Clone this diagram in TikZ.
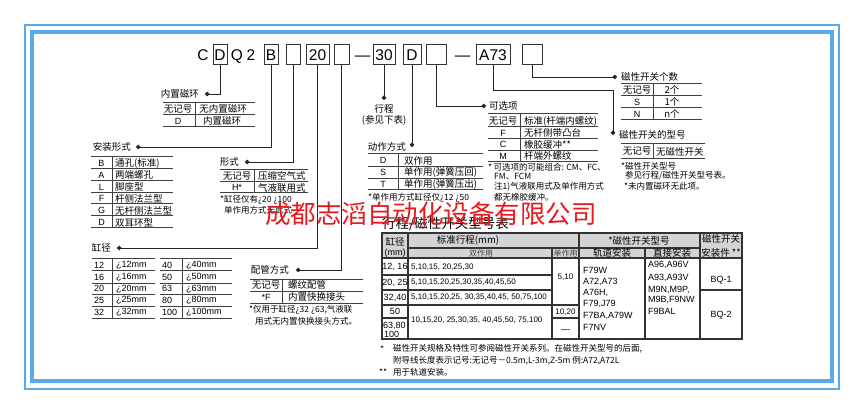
\documentclass[tikz,border=0pt]{standalone}
\usepackage{fontspec}
\setmainfont{Noto Sans CJK SC}
\newfontfamily\lat{Liberation Sans}
\usetikzlibrary{arrows.meta}
\definecolor{frameblue}{HTML}{5BA9E5}
\definecolor{wmred}{HTML}{E8191E}
\definecolor{hdrgray}{HTML}{D4D4D4}
\tikzset{
 cbox/.style={draw=black!80, line width=1pt, minimum height=20pt, inner sep=0pt, font=\lat\fontsize{15.5}{16}\selectfont},
 ctext/.style={inner sep=0pt, anchor=base, font=\lat\fontsize{15.5}{16}\selectfont},
 conn/.style={draw=black!85, line width=0.9pt, -{Circle[length=4.5pt]}},
 lbl/.style={inner sep=0pt, font=\fontsize{9.5}{10}\selectfont},
 tabcjk/.style={inner sep=0pt, font=\fontsize{9.5}{10}\selectfont},
 tablat/.style={inner sep=0pt, font=\lat\fontsize{9}{10}\selectfont},
 smalllat/.style={inner sep=0pt, font=\lat\fontsize{8}{9}\selectfont},
 hdrsmall/.style={inner sep=0pt, font=\fontsize{8}{9}\selectfont, text=black!75},
 notetxt/.style={inner sep=0pt, font=\fontsize{8.5}{9}\selectfont},
 tabline/.style={draw=black!75, line width=1pt},
 bigline/.style={draw=black!80, line width=1.2pt},
}
\begin{document}
\begin{tikzpicture}[x=1pt,y=-1pt]
\useasboundingbox (0,0) rectangle (865,414);
\fill[white] (0,0) rectangle (865,414);
% frame
\draw[frameblue, line width=2pt] (25,25) rectangle (839,389);
\draw[frameblue, line width=4pt] (32,32) rectangle (832,381);

% ---------- code line ----------
\node[ctext] (tC) at (203,60.5) {C};
\node[cbox, minimum width=14pt] (bD) at (220,55) {D};
\node[ctext] (tQ) at (237,60.5) {Q};
\node[ctext] (t2) at (251,60.5) {2};
\node[cbox, minimum width=14pt] (bB) at (271,55) {B};
\node[cbox, minimum width=14pt] (bE1) at (293,55) {};
\node[cbox, minimum width=23pt] (b20) at (317.5,55) {20};
\node[cbox, minimum width=15pt] (bE2) at (341.5,55) {};
\node[ctext] (dash1) at (362.5,60.5) {—};
\node[cbox, minimum width=22pt] (b30) at (384,55) {30};
\node[cbox, minimum width=18pt] (bD2) at (412,55) {D};
\node[cbox, minimum width=20pt] (bE3) at (436,55) {};
\node[ctext] (dash2) at (462.5,60.5) {—};
\node[cbox, minimum width=34pt] (bA73) at (493,55) {A73};
\node[cbox, minimum width=20pt] (bE4) at (532,55) {};

% ---------- end coordinates ----------
\coordinate (dD) at (205,94);
\coordinate (dB) at (136,147);
\coordinate (dE1) at (245,162);
\coordinate (d20) at (117,248);
\coordinate (dE2) at (296,270);
\coordinate (d30) at (384,100);
\coordinate (dD2) at (412,147);
\coordinate (dE3) at (486,106);
\coordinate (kA) at (613,90);
\coordinate (dA) at (613,135);
\coordinate (dE4) at (617,77);

% ---------- connectors ----------
\draw[conn] (bD.south) |- (dD);
\draw[conn] (bB.south) |- (dB);
\draw[conn] (bE1.south) |- (dE1);
\draw[conn] (b20.south) |- (d20);
\draw[conn] (bE2.south) |- (dE2);
\draw[conn] (b30.south) -- (d30);
\draw[conn] (bD2.south) -- (dD2);
\draw[conn] (bE3.south) |- (dE3);
\draw[conn] (bA73.south) |- (kA) -- (dA);
\draw[conn] (bE4.south) |- (dE4);

% ---------- labels ----------
\node[lbl, anchor=east] (l1) at (199,94) {内置磁环};
\node[lbl, anchor=east] (l2) at (131,147) {安装形式};
\node[lbl, anchor=east] (l3) at (239,162) {形式};
\node[lbl, anchor=east] (l4) at (111,248) {缸径};
\node[lbl, anchor=east] (l5) at (289,270) {配管方式};
\node[lbl] (l6a) at (384,109) {行程};
\node[lbl] (l6b) at (384,120) {(参见下表)};
\node[lbl, anchor=east] (l7) at (406,147) {动作方式};
\node[lbl, anchor=west] (l8) at (489,106) {可选项};
\node[lbl, anchor=west] (l9) at (619,135) {磁性开关的型号};
\node[lbl, anchor=west] (l10) at (621,77) {磁性开关个数};

% ---------- T1 内置磁环 ----------
\draw[tabline] (163,103) -- (255,103) (163,115) -- (255,115) (163,127) -- (255,127) (195,103) -- (195,127);
\node[tabcjk] (t1a) at (178,109) {无记号};
\node[tabcjk] (t1b) at (223,109) {无内置磁环};
\node[tablat] (t1c) at (178,121) {D};
\node[tabcjk] (t1d) at (222,121) {内置磁环};

% ---------- T2 安装形式 ----------
\draw[tabline] (91,157) -- (173,157) (91,169) -- (173,169) (91,181) -- (173,181) (91,192.5) -- (173,192.5)
  (91,204) -- (173,204) (91,216) -- (173,216) (91,228) -- (173,228) (112,157) -- (112,228);
\node[tablat] (t2a) at (101.5,163) {B};
\node[tabcjk, anchor=west] (t2b) at (115,163) {通孔(标准)};
\node[tablat] (t2c) at (101.5,175) {A};
\node[tabcjk, anchor=west] (t2d) at (115,175) {两端螺孔};
\node[tablat] (t2e) at (101.5,187) {L};
\node[tabcjk, anchor=west] (t2f) at (115,187) {脚座型};
\node[tablat] (t2g) at (101.5,198.5) {F};
\node[tabcjk, anchor=west] (t2h) at (115,198.5) {杆侧法兰型};
\node[tablat] (t2i) at (101.5,210.5) {G};
\node[tabcjk, anchor=west] (t2j) at (115,210.5) {无杆侧法兰型};
\node[tablat] (t2k) at (101.5,222.5) {D};
\node[tabcjk, anchor=west] (t2l) at (115,222.5) {双耳环型};

% ---------- T3 形式 ----------
\draw[tabline] (220,170) -- (308,170) (220,182) -- (308,182) (220,193) -- (308,193) (254,170) -- (254,193);
\node[tabcjk] (t3a) at (237,176) {无记号};
\node[tabcjk, anchor=west] (t3b) at (258,176) {压缩空气式};
\node[tablat] (t3c) at (237,187.5) {H*};
\node[tabcjk, anchor=west] (t3d) at (258,187.5) {气液联用式};
\node[notetxt, anchor=west] (n3a) at (220,200) {*缸径仅有¿20~¿100};
\node[notetxt, anchor=west] (n3b) at (224,210) {单作用方式无此式};

% ---------- T4 缸径 ----------
\foreach \yy in {259,271,283,294.5,306,318} {
  \draw[tabline] (92,\yy) -- (155,\yy) (160,\yy) -- (232,\yy);
}
\draw[tabline] (112,259) -- (112,318) (182,259) -- (182,318);
\node[tablat, anchor=west] (t4a1) at (94,265) {12};
\node[tablat, anchor=west] (t4b1) at (116,265) {¿12mm};
\node[tablat, anchor=west] (t4a2) at (94,277) {16};
\node[tablat, anchor=west] (t4b2) at (116,277) {¿16mm};
\node[tablat, anchor=west] (t4a3) at (94,288.7) {20};
\node[tablat, anchor=west] (t4b3) at (116,288.7) {¿20mm};
\node[tablat, anchor=west] (t4a4) at (94,300.2) {25};
\node[tablat, anchor=west] (t4b4) at (116,300.2) {¿25mm};
\node[tablat, anchor=west] (t4a5) at (94,312) {32};
\node[tablat, anchor=west] (t4b5) at (116,312) {¿32mm};
\node[tablat, anchor=west] (t4c1) at (162,265) {40};
\node[tablat, anchor=west] (t4d1) at (186,265) {¿40mm};
\node[tablat, anchor=west] (t4c2) at (162,277) {50};
\node[tablat, anchor=west] (t4d2) at (186,277) {¿50mm};
\node[tablat, anchor=west] (t4c3) at (162,288.7) {63};
\node[tablat, anchor=west] (t4d3) at (186,288.7) {¿63mm};
\node[tablat, anchor=west] (t4c4) at (162,300.2) {80};
\node[tablat, anchor=west] (t4d4) at (186,300.2) {¿80mm};
\node[tablat, anchor=west] (t4c5) at (162,312) {100};
\node[tablat, anchor=west] (t4d5) at (186,312) {¿100mm};

% ---------- T5 配管方式 ----------
\draw[tabline] (250,279) -- (363,279) (250,291) -- (363,291) (250,303) -- (363,303) (282,279) -- (282,303);
\node[tabcjk] (t5a) at (266,285) {无记号};
\node[tabcjk, anchor=west] (t5b) at (288,285) {螺纹配管};
\node[tablat] (t5c) at (266,297) {*F};
\node[tabcjk, anchor=west] (t5d) at (288,297) {内置快换接头};
\node[notetxt, anchor=west] (n5a) at (249,310) {*仅用于缸径¿32~¿63,气液联};
\node[notetxt, anchor=west] (n5b) at (255,321) {用式无内置快换接头方式。};

% ---------- T6 动作方式 ----------
\draw[tabline] (368,154) -- (483,154) (368,166.5) -- (483,166.5) (368,178.5) -- (483,178.5) (368,190) -- (483,190) (398,154) -- (398,190);
\node[tablat] (t6a) at (383,160.5) {D};
\node[tabcjk, anchor=west] (t6b) at (404,160.5) {双作用};
\node[tablat] (t6c) at (383,172.5) {S};
\node[tabcjk, anchor=west] (t6d) at (404,172.5) {单作用(弹簧压回)};
\node[tablat] (t6e) at (383,184) {T};
\node[tabcjk, anchor=west] (t6f) at (404,184) {单作用(弹簧压出)};
\node[notetxt, anchor=west] (n6) at (368,198) {*单作用方式缸径仅¿12~¿50};

% ---------- T7 可选项 ----------
\draw[tabline] (488,114) -- (598,114) (488,127) -- (598,127) (488,139) -- (598,139) (488,150.5) -- (598,150.5) (488,162) -- (598,162) (520,114) -- (520,162);
\node[tabcjk] (t7a) at (503,121) {无记号};
\node[tabcjk, anchor=west] (t7b) at (524,121) {标准(杆端内螺纹)};
\node[tablat] (t7c) at (503,133) {F};
\node[tabcjk, anchor=west] (t7d) at (524,133) {无杆侧带凸台};
\node[tablat] (t7e) at (503,144.5) {C};
\node[tabcjk, anchor=west] (t7f) at (524,144.5) {橡胶缓冲**};
\node[tablat] (t7g) at (503,156) {M};
\node[tabcjk, anchor=west] (t7h) at (524,156) {杆端外螺纹};
\node[notetxt, anchor=west] (n7a) at (488,167.5) {*\,可选项的可能组合: CM、FC、};
\node[notetxt, anchor=west] (n7b) at (494,176.5) {FM、FCM};
\node[notetxt, anchor=west] (n7c) at (494,187) {注1)气液联用式及单作用方式};
\node[notetxt, anchor=west] (n7d) at (494,197.5) {都无橡胶缓冲。};

% ---------- T8 磁性开关个数 ----------
\draw[tabline] (621,84) -- (702,84) (621,96) -- (702,96) (621,108) -- (702,108) (621,120) -- (702,120) (653,84) -- (653,120);
\node[tabcjk] (t8a) at (637,90) {无记号};
\node[tabcjk] (t8b) at (672,90) {2个};
\node[tablat] (t8c) at (637,102) {S};
\node[tabcjk] (t8d) at (672,102) {1个};
\node[tablat] (t8e) at (637,114) {N};
\node[tabcjk] (t8f) at (672,114) {n个};

% ---------- T9 磁性开关的型号 ----------
\draw[tabline] (621,144) -- (705,144) (621,159) -- (705,159) (653,144) -- (653,159);
\node[tabcjk] (t9a) at (637,151.5) {无记号};
\node[tabcjk, anchor=west] (t9b) at (656,151.5) {无磁性开关};
\node[notetxt, anchor=west] (n9a) at (621,166) {*磁性开关型号};
\node[notetxt, anchor=west] (n9b) at (625,176) {参见行程/磁性开关型号表。};
\node[notetxt, anchor=west] (n9c) at (624,186) {*未内置磁环无此项。};

% ---------- big table ----------
\node[inner sep=0pt, anchor=west, font=\fontsize{13.5}{14}\selectfont] (ttl) at (382,224) {行程/磁性开关型号表};
\fill[hdrgray] (382,233) rectangle (742,258);
\draw[bigline] (382,233) rectangle (742,339);
\draw[bigline] (408,248) -- (700,248) (382,258) -- (742,258)
  (408,233) -- (408,339) (552,248) -- (552,339) (579,233) -- (579,339)
  (645,248) -- (645,339) (700,233) -- (700,339)
  (382,275) -- (552,275) (382,290) -- (552,290) (382,305) -- (579,305)
  (382,318) -- (408,318) (552,318) -- (579,318) (700,290) -- (742,290);
% header
\node[tabcjk] (h1) at (395,241.5) {缸径};
\node[tablat] (h2) at (395,253) {(mm)};
\node[tabcjk] (h3) at (468,240.5) {标准行程(mm)};
\node[hdrsmall] (h4) at (481,253) {双作用};
\node[hdrsmall] (h5) at (565.5,253) {单作用};
\node[tabcjk] (h6) at (639,240.5) {*磁性开关型号};
\node[tabcjk] (h7) at (612,253) {轨道安装};
\node[tabcjk] (h8) at (672,253) {直接安装};
\node[tabcjk] (h9) at (721,239) {磁性开关};
\node[tabcjk] (h10) at (721,253) {安装件 **};
% bore column
\node[tablat] (r1) at (395,267) {12, 16};
\node[tablat] (r2) at (395,282.5) {20, 25};
\node[tablat] (r3) at (395,297.5) {32,40};
\node[tablat] (r4) at (395,311.5) {50};
\node[tablat, anchor=west] (r5) at (383,326) {63,80};
\node[tablat, anchor=west] (r6) at (384,334.5) {100};
% double acting
\node[smalllat, anchor=west] (s1) at (411,267) {5,10,15, 20,25,30};
\node[smalllat, anchor=west] (s2) at (411,282.5) {5,10,15,20,25,30,35,40,45,50};
\node[smalllat, anchor=west] (s3) at (411,297.5) {5,10,15,20,25, 30,35,40,45, 50,75,100};
\node[smalllat, anchor=west] (s4) at (411,320) {10,15,20, 25,30,35, 40,45,50, 75,100};
% single acting
\node[smalllat] (u1) at (565.5,277) {5,10};
\node[smalllat] (u2) at (565.5,312) {10,20};
\node[tablat] (u3) at (565.5,331) {—};
% rail mount
\node[tablat, anchor=west] (g1) at (583,270) {F79W};
\node[tablat, anchor=west] (g2) at (583,281.5) {A72,A73};
\node[tablat, anchor=west] (g3) at (583,292.5) {A76H,};
\node[tablat, anchor=west] (g4) at (583,304) {F79,J79};
\node[tablat, anchor=west] (g5) at (583,315.5) {F7BA,A79W};
\node[tablat, anchor=west] (g6) at (583,327) {F7NV};
% direct mount
\node[tablat, anchor=west] (k1) at (648,265) {A96,A96V};
\node[tablat, anchor=west] (k2) at (648,277.5) {A93,A93V};
\node[tablat, anchor=west] (k3) at (648,289.5) {M9N,M9P,};
\node[tablat, anchor=west] (k4) at (648,300) {M9B,F9NW};
\node[tablat, anchor=west] (k5) at (648,311) {F9BAL};
% bracket
\node[tablat] (q1) at (721,280) {BQ-1};
\node[tablat] (q2) at (721,315) {BQ-2};

% ---------- footnotes ----------
\node[notetxt, anchor=west] (f1s) at (380,349) {*};
\node[notetxt, anchor=west] (f1) at (393,349) {磁性开关规格及特性可参阅磁性开关系列。在磁性开关型号的后面,};
\node[notetxt, anchor=west] (f2) at (393,361) {附导线长度表示记号:无记号－0.5m,L-3m,Z-5m 例:A72,A72L};
\node[notetxt, anchor=west] (f3s) at (379,372) {**};
\node[notetxt, anchor=west] (f3) at (393,372) {用于轨道安装。};

% ---------- watermark ----------
\node[inner sep=0pt, text=wmred, font=\fontsize{25.5}{26}\selectfont] (wm) at (431,214) {成都志滔自动化设备有限公司};
\end{tikzpicture}
\end{document}
